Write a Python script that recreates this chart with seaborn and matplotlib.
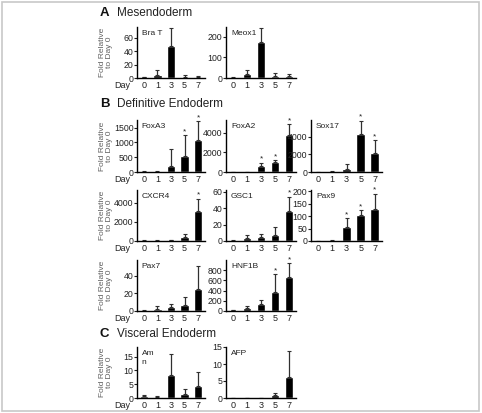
import numpy as np
import pandas as pd
import matplotlib.pyplot as plt
import seaborn as sns
from matplotlib.patches import Rectangle

sns.set_theme(style="ticks")
plt.rcParams['font.family'] = ['Liberation Sans', 'DejaVu Sans']

# x categories
days = ["0", "1", "3", "5", "7"]

# bar heights (mean fold change) and top of the error bar
bra_t = [1, 5, 47, 1.5, 1]
bra_t_top = [1.8, 12, 74, 5, 3]
meox1 = [2, 21, 174, 10, 8]
meox1_top = [5, 39, 243, 26, 21]

foxa3 = [10, 12, 215, 535, 1095]
foxa3_top = [25, 25, 790, 1250, 1720]
foxa2 = [20, 25, 650, 1050, 3800]
foxa2_top = [40, 45, 950, 1230, 4870]
sox17 = [20, 40, 300, 4300, 2200]
sox17_top = [50, 80, 950, 5800, 3600]

cxcr4 = [30, 40, 60, 380, 3100]
cxcr4_top = [70, 80, 120, 720, 4400]
gsc1 = [0.5, 3.5, 5.4, 7, 37]
gsc1_top = [1, 7.8, 9, 16.7, 54]
pax9 = [1, 1.5, 55, 104, 129]
pax9_top = [2, 3, 92, 125, 190]

pax7 = [0.5, 2.4, 4.4, 6.4, 25]
pax7_top = [1, 6, 8.4, 16.4, 51]
hnf1b = [10, 60, 145, 380, 675]
hnf1b_top = [20, 100, 210, 720, 940]

am = [0.85, 0.35, 8.5, 1.3, 4.5]
am_top = [1.1, 0.6, 16, 3.3, 9.5]
afp = [0.05, 0.05, 0.05, 0.8, 6.3]
afp_top = [0.1, 0.1, 0.1, 1.6, 13.8]

# significance stars per day
stars_foxa3 = [0, 0, 0, 1, 1]
stars_foxa2 = [0, 0, 1, 1, 1]
stars_sox17 = [0, 0, 0, 1, 1]
stars_cxcr4 = [0, 0, 0, 0, 1]
stars_gsc1 = [0, 0, 0, 0, 1]
stars_pax9 = [0, 0, 1, 1, 1]
stars_hnf1b = [0, 0, 0, 1, 1]
no_stars = [0, 0, 0, 0, 0]

W, H = 482, 413
fig = plt.figure(figsize=(W / 100, H / 100), dpi=100)
fig.patch.set_facecolor("white")
fig.patches.append(Rectangle((0.004, 0.004), 0.99, 0.992, transform=fig.transFigure,
                             fill=False, edgecolor="#c8c8c8", linewidth=1.2))

cols = [(137, 205), (226, 296), (311, 382)]
rows = {"A": (27, 78), "B1": (120, 172), "B2": (190, 241), "B3": (260, 311), "C": (347, 398)}


def make_ax(row, col):
    top, bottom = rows[row]
    left, right = cols[col]
    return fig.add_axes([left / W, 1 - bottom / H, (right - left) / W, (bottom - top) / H])


def panel(row, col, name, means, tops, stars, ylim, yticks):
    ax = make_ax(row, col)
    df = pd.DataFrame({"day": days, "fold": means})
    sns.barplot(data=df, x="day", y="fold", color="black", width=0.62,
                saturation=1, ax=ax)
    means = np.array(means, dtype=float)
    tops = np.array(tops, dtype=float)
    ax.errorbar(np.arange(len(days)), means, yerr=[np.zeros(len(days)), tops - means],
                fmt="none", ecolor="#303030", elinewidth=0.9, capsize=1.2, capthick=0.8)
    for i, s in enumerate(stars):
        if s:
            ax.text(i, tops[i], "*", ha="center", va="bottom",
                    fontsize=6, color="#222222")
    ax.set_ylim(0, ylim)
    ax.set_xlim(-0.5, 4.5)
    ax.set_yticks(yticks)
    ax.set_xlabel("")
    ax.set_ylabel("")
    ax.set_facecolor("white")
    sns.despine(ax=ax)
    for sp in ["left", "bottom"]:
        ax.spines[sp].set_linewidth(1.0)
        ax.spines[sp].set_color("black")
    ax.tick_params(axis="y", length=2, width=0.8, pad=0.5, labelsize=6.3, colors="#222222")
    ax.tick_params(axis="x", length=0, pad=2.5, labelsize=6.5, colors="#222222")
    ax.text(0.07, 0.95, name, transform=ax.transAxes, ha="left", va="top",
            fontsize=6, color="#222222", linespacing=1.4)
    if col == 0:
        ax.text(-0.1, -0.15, "Day", transform=ax.transAxes, ha="right", va="center",
                fontsize=6.5, color="#222222")
        top, bottom = rows[row]
        fig.text(106 / W, 1 - (top + bottom) / 2 / H, "Fold Relative\nto Day 0",
                 rotation=90, ha="center", va="center", fontsize=6,
                 color="#606060", linespacing=1.1)
    return ax


panel("A", 0, "Bra T", bra_t, bra_t_top, no_stars, 76, [0, 20, 40, 60])
panel("A", 1, "Meox1", meox1, meox1_top, no_stars, 248, [0, 100, 200])

panel("B1", 0, "FoxA3", foxa3, foxa3_top, stars_foxa3, 1760, [0, 500, 1000, 1500])
panel("B1", 1, "FoxA2", foxa2, foxa2_top, stars_foxa2, 5300, [0, 2000, 4000])
panel("B1", 2, "Sox17", sox17, sox17_top, stars_sox17, 5900, [0, 2000, 4000])

panel("B2", 0, "CXCR4", cxcr4, cxcr4_top, stars_cxcr4, 5300, [0, 2000, 4000])
panel("B2", 1, "GSC1", gsc1, gsc1_top, stars_gsc1, 62, [0, 20, 40, 60])
panel("B2", 2, "Pax9", pax9, pax9_top, stars_pax9, 205, [0, 50, 100, 150, 200])

panel("B3", 0, "Pax7", pax7, pax7_top, no_stars, 58, [0, 20, 40])
panel("B3", 1, "HNF1B", hnf1b, hnf1b_top, stars_hnf1b, 1000, [0, 200, 400, 600, 800])

panel("C", 0, "Am\nn", am, am_top, no_stars, 18.5, [0, 5, 10, 15])
panel("C", 1, "AFP", afp, afp_top, no_stars, 15, [0, 5, 10, 15])

# section headings
for letter, title, y in [("A", "Mesendoderm", 13), ("B", "Definitive Endoderm", 104),
                         ("C", "Visceral Endoderm", 334)]:
    fig.text(100 / W, 1 - y / H, letter, ha="left", va="center", fontsize=9.5,
             fontweight="bold", color="#111111")
    fig.text(117 / W, 1 - y / H, title, ha="left", va="center", fontsize=8.5,
             color="#222222")

fig.savefig("out.png", dpi=100)
